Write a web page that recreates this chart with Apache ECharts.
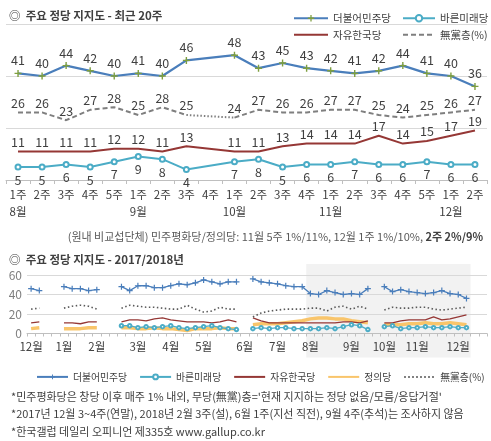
<!DOCTYPE html>
<html>
<head>
<meta charset="utf-8">
<script src="https://cdn.jsdelivr.net/npm/echarts@6/dist/echarts.min.js"></script>
<style>
  html, body { margin: 0; padding: 0; background: #fff; }
  #chart { width: 491px; height: 441px; }
</style>
</head>
<body>
<div id="chart"></div>
<script>
// --- 최근 20주 (2018년 8월 1주 ~ 12월 2주, 9월 4주 추석 미조사) ---
var recentWeeks  = ['1주','2주','3주','4주','5주','1주','2주','3주','4주','1주','2주','3주','4주','1주','2주','3주','4주','5주','1주','2주'];
var recentMonths = ['8월','','','','','9월','','','','10월','','','','11월','','','','','12월',''];
var recentMinjoo  = [41,40,44,42,40,41,40,46,null,48,43,45,43,42,41,42,44,41,40,36];
var recentBareun  = [5,5,6,5,7,9,8,4,null,7,8,5,6,6,7,6,6,7,6,6];
var recentHankook = [11,11,11,11,12,12,11,13,null,11,11,13,14,14,14,17,14,15,17,19];
var recentNone    = [26,26,23,27,28,25,28,25,null,24,27,26,26,27,27,25,24,25,26,27];
var recentJustice = [15,16,16,15,15,13,12,11,null,9,9,9,10,10,11,10,10,11,10,9];

// --- 2017/2018 주간 (2017년 12월 1주 ~ 2018년 7월 5주), 이후는 위 20주 ---
var earlyMinjoo  = [46,44,null,null,48,46,46,44,45,null,null,48,44,49,49,47,47,49,51,50,52,55,53,51,53,53,null,56,53,52,51,49,48,48];
var earlyBareun  = [null,null,null,null,null,null,null,null,null,null,null,8,8,6,7,6,7,8,6,5,6,7,8,6,5,4,null,5,6,5,6,6,5,5];
var earlyHankook = [11,12,null,null,11,11,10,12,12,null,null,12,14,14,13,15,16,14,13,12,12,12,11,12,14,12,null,16,13,11,11,11,11,11];
var earlyJustice = [5,6,null,null,5,5,5,6,6,null,null,6,6,5,5,6,5,5,4,3,5,5,5,6,5,5,null,9,10,10,10,11,12,13];
var earlyNone    = [25,26,null,null,26,28,29,28,25,null,null,26,29,28,27,27,26,25,25,29,25,22,23,27,25,25,null,17,21,23,24,25,25,25];
var trailingEmpty = [null, null];

var longMonthNames = ['12월','1월','2월','3월','4월','5월','6월','7월','8월','9월','10월','11월','12월'];
var longMonthStart = [0,4,8,13,17,21,26,30,34,39,43,47,52];

var FONT = 'Noto Sans CJK KR';
var C_MINJOO = '#4a7ebb', C_BAREUN = '#4bacc6', C_HANKOOK = '#953735',
    C_JUSTICE = '#f9c56b', C_NONE = '#7f7f7f', C_MARK = '#7f9f3f';
var PLUS = 'path://M4,0H6V4H10V6H6V10H4V6H0V4H4Z';

function longOf(early, recent) { return early.concat(recent, trailingEmpty); }
// keep only the two points around each gap, to draw the dotted bridge
function bridgeAround(arr) {
  return arr.map(function (v, i) {
    return (arr[i - 1] === null || arr[i + 1] === null) && v !== null ? v : null;
  });
}

var longMinjoo = longOf(earlyMinjoo, recentMinjoo);
var longBareun = longOf(earlyBareun, recentBareun);
var longHankook = longOf(earlyHankook, recentHankook);
var longJustice = longOf(earlyJustice, recentJustice);
var longNone = longOf(earlyNone, recentNone);
var longCats = longMinjoo.map(function (v, i) { return 'w' + i; });

var chart = echarts.init(document.getElementById('chart'), null, { renderer: 'canvas' });

function lbl(pos) {
  return { show: true, position: pos, distance: 3, fontSize: 12.5, color: '#404040', fontFamily: FONT };
}

var option = {
  animation: false,
  textStyle: { fontFamily: FONT },
  title: [
    { text: '◎  주요 정당 지지도 - 최근 20주', left: 4, top: 5,
      textStyle: { fontSize: 11.5, fontWeight: 'bold', color: '#404040', fontFamily: FONT } },
    { text: '(원내 비교섭단체) 민주평화당/정의당: 11월 5주 1%/11%, 12월 1주 1%/10%, {b|2주 2%/9%}',
      right: 3, top: 225,
      textStyle: { fontSize: 11, fontWeight: 'normal', color: '#595959', lineHeight: 14, fontFamily: FONT,
        rich: { b: { fontSize: 11, fontWeight: 'bold', color: '#404040', fontFamily: FONT } } } },
    { text: '◎  주요 정당 지지도 - 2017/2018년', left: 4, top: 249,
      textStyle: { fontSize: 11.5, fontWeight: 'bold', color: '#404040', fontFamily: FONT } },
    { text: "*민주평화당은 창당 이후 매주 1% 내외, 무당(無黨)층='현재 지지하는 정당 없음/모름/응답거절'\n" +
            '*2017년 12월 3~4주(연말), 2018년 2월 3주(설), 6월 1주(지선 직전), 9월 4주(추석)는 조사하지 않음\n' +
            '*한국갤럽 데일리 오피니언 제335호 www.gallup.co.kr',
      left: 6, top: 383,
      textStyle: { fontSize: 11, fontWeight: 'normal', color: '#404040', lineHeight: 17.5, fontFamily: FONT } }
  ],
  legend: [
    { orient: 'vertical', left: 288, top: 8, itemWidth: 34, itemHeight: 8, itemGap: 6,
      textStyle: { fontSize: 10.5, color: '#404040', fontFamily: FONT },
      data: ['더불어민주당', { name: '자유한국당', itemStyle: { opacity: 0 } }] },
    { orient: 'vertical', left: 397, top: 8, itemWidth: 32, itemHeight: 8, itemGap: 6,
      textStyle: { fontSize: 10.5, color: '#404040', fontFamily: FONT },
      data: ['바른미래당', { name: '無黨층(%)', itemStyle: { opacity: 0 } }] },
    { left: 31, top: 367, width: 470, itemWidth: 31, itemHeight: 6, itemGap: 12,
      textStyle: { fontSize: 9.8, color: '#404040', fontFamily: FONT },
      formatter: function (n) { return n.replace('L:', ''); },
      data: ['L:더불어민주당', 'L:바른미래당',
        { name: 'L:자유한국당', itemStyle: { opacity: 0 } },
        { name: 'L:정의당', itemStyle: { opacity: 0 } },
        { name: 'L:無黨층(%)', itemStyle: { opacity: 0 } }] }
  ],
  grid: [
    { left: 6, right: 4, top: 24, height: 156 },
    { left: 27, right: 4, top: 275, height: 58.5 }
  ],
  xAxis: [
    { type: 'category', gridIndex: 0, boundaryGap: true,
      data: recentWeeks.map(function (w, i) { return 'r' + i; }),
      axisLine: { lineStyle: { color: '#bfbfbf' } },
      axisTick: { show: true, interval: 0, length: 4, lineStyle: { color: '#bfbfbf' } },
      axisLabel: { interval: 0, margin: 6, fontSize: 11.5, lineHeight: 17, color: '#404040', fontFamily: FONT,
        formatter: function (v, i) {
          return recentMonths[i] ? recentWeeks[i] + '\n' + recentMonths[i] : recentWeeks[i];
        } } },
    { type: 'category', gridIndex: 1, boundaryGap: true, data: longCats,
      axisLine: { lineStyle: { color: '#bfbfbf' } },
      axisTick: { show: true, interval: 0, length: 3, lineStyle: { color: '#bfbfbf' } },
      axisLabel: { interval: 0, margin: 7, fontSize: 11.5, color: '#404040', fontFamily: FONT,
        formatter: function (v, i) {
          var k = longMonthStart.indexOf(i);
          return k >= 0 ? longMonthNames[k] : '';
        } } },
    { type: 'value', gridIndex: 1, min: 0, max: longCats.length, show: false }
  ],
  yAxis: [
    { type: 'value', gridIndex: 0, min: 0, max: 60, interval: 20,
      axisLabel: { show: false }, axisLine: { show: false }, axisTick: { show: false },
      splitLine: { lineStyle: { color: '#d9d9d9' } } },
    { type: 'value', gridIndex: 1, min: 0, max: 60, interval: 20,
      axisLabel: { margin: 5, fontSize: 12, color: '#7f7f7f', fontFamily: FONT },
      axisLine: { show: false }, axisTick: { show: false },
      splitLine: { lineStyle: { color: '#d9d9d9' } } }
  ],
  series: [
    // top chart
    { name: '無黨층(%)', type: 'line', xAxisIndex: 0, yAxisIndex: 0, data: recentNone,
      symbol: 'circle', symbolSize: 0.1, itemStyle: { color: C_NONE },
      lineStyle: { color: C_NONE, width: 2, type: [5, 3] }, label: lbl('top') },
    { name: '무당층 연결', type: 'line', xAxisIndex: 0, yAxisIndex: 0, data: bridgeAround(recentNone),
      connectNulls: true, symbol: 'none', silent: true,
      lineStyle: { color: C_NONE, width: 2, type: [1.5, 2] } },
    { name: '자유한국당', type: 'line', xAxisIndex: 0, yAxisIndex: 0, data: recentHankook, connectNulls: true,
      symbol: 'circle', symbolSize: 0.1, itemStyle: { color: C_HANKOOK },
      lineStyle: { color: C_HANKOOK, width: 2 }, label: lbl('top') },
    { name: '바른미래당', type: 'line', xAxisIndex: 0, yAxisIndex: 0, data: recentBareun, connectNulls: true,
      symbol: 'emptyCircle', symbolSize: 5, itemStyle: { color: C_BAREUN, borderWidth: 1.5 },
      lineStyle: { color: C_BAREUN, width: 2 }, label: lbl('bottom') },
    { name: '더불어민주당', type: 'line', xAxisIndex: 0, yAxisIndex: 0, data: recentMinjoo, connectNulls: true,
      symbol: PLUS, symbolSize: 7, itemStyle: { color: C_MARK },
      lineStyle: { color: C_MINJOO, width: 2.2 }, label: lbl('top') },

    // bottom chart
    { name: 'L:정의당', type: 'line', xAxisIndex: 1, yAxisIndex: 1, data: longJustice,
      symbol: 'none', lineStyle: { color: C_JUSTICE, width: 3.5 }, itemStyle: { color: C_JUSTICE } },
    { name: 'L:자유한국당', type: 'line', xAxisIndex: 1, yAxisIndex: 1, data: longHankook,
      symbol: 'none', lineStyle: { color: C_HANKOOK, width: 1.3 }, itemStyle: { color: C_HANKOOK } },
    { name: 'L:바른미래당', type: 'line', xAxisIndex: 1, yAxisIndex: 1, data: longBareun,
      symbol: 'emptyCircle', symbolSize: 3.5, itemStyle: { color: C_BAREUN, borderWidth: 1 },
      lineStyle: { color: C_BAREUN, width: 1.3 } },
    { name: 'L:無黨층(%)', type: 'line', xAxisIndex: 1, yAxisIndex: 1, data: longNone,
      symbol: 'none', lineStyle: { color: '#595959', width: 1.6, type: [1.5, 2.5] }, itemStyle: { color: '#595959' } },
    { name: 'L:더불어민주당', type: 'line', xAxisIndex: 1, yAxisIndex: 1, data: longMinjoo,
      symbol: PLUS, symbolSize: 6, itemStyle: { color: C_MINJOO },
      lineStyle: { color: C_MINJOO, width: 1.3 } }
  ]
};

chart.setOption(option);

// shaded band behind the latest 20 weeks (reaches down over the month labels)
var bandFrom = earlyMinjoo.length, bandTo = earlyMinjoo.length + recentWeeks.length;
var bx0 = chart.convertToPixel({ xAxisIndex: 2 }, bandFrom);
var bx1 = chart.convertToPixel({ xAxisIndex: 2 }, bandTo);
var by0 = chart.convertToPixel({ yAxisIndex: 1 }, 60) - 11;
var by1 = chart.convertToPixel({ yAxisIndex: 1 }, 0) + 24;
chart.setOption({
  graphic: [{ type: 'rect', z: -10, silent: true,
    shape: { x: bx0, y: by0, width: bx1 - bx0, height: by1 - by0 },
    style: { fill: '#f2f2f2' } }]
});
</script>
</body>
</html>
